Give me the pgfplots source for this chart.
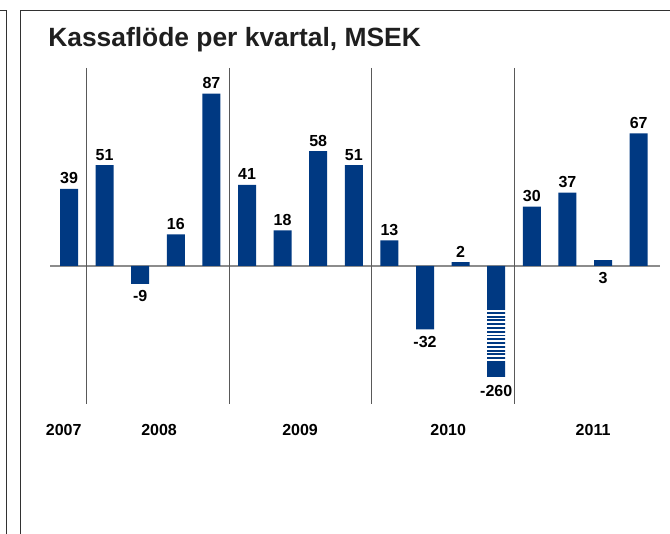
\documentclass[border=0pt]{standalone}
\usepackage{pgfplots}
\usepackage{pgfplotstable}
\pgfplotsset{compat=1.18}
\usepackage{fontspec}
\setmainfont{Liberation Sans}
\definecolor{barblue}{RGB}{0,57,130}
\definecolor{framegray}{RGB}{50,50,50}

% val = true value, disp = drawn height (the -260 bar is drawn broken), ly = label baseline
\pgfplotstableread{
x val disp ly
0 39 39 41.5
1 51 51 53.5
2 -9 -9 -18
3 16 16 18.5
4 87 87 89.5
5 41 41 43.5
6 18 18 20.5
7 58 58 60.5
8 51 51 53.5
9 13 13 15.5
10 -32 -32 -41
11 2 2 4.5
12 -260 -56 -66
13 30 30 32.5
14 37 37 39.5
15 3 3 -8.6
16 67 67 69.5
}\data

\begin{document}
\begin{tikzpicture}
\path[use as bounding box] (0,0) rectangle (502.5pt,399.75pt);
\begin{scope}[x=0.75pt,y=-0.75pt,yshift=399.75pt]
  \draw[line width=1.1pt, framegray] (0,10.5) -- (6.5,10.5) -- (6.5,545);
  \draw[line width=1.1pt, framegray] (690,10.5) -- (20.5,10.5) -- (20.5,545);
  \node[anchor=base west, inner sep=0pt, font=\fontsize{19.8}{22}\selectfont\bfseries, text=black!88] at (48,46.7) {Kassaflöde per kvartal, MSEK};
\end{scope}
\begin{axis}[
  at={(37.5pt,96.75pt)}, anchor=south west,
  scale only axis, width=457.5pt, height=252pt,
  xmin=-0.534, xmax=16.6, ymin=-69.7, ymax=100,
  hide axis, clip=false,
]
  \draw[black!45, line width=1.1pt] (axis cs:-0.534,0) -- (axis cs:16.6,0);
  \addplot[ybar, bar width=13.5pt, fill=barblue, draw=none] table[x=x, y=disp] {\data};
  \pgfplotsinvokeforeach{0,...,13}{
    \draw[white, line width=1.4pt] (axis cs:11.73,{-22.7-1.91*#1}) -- (axis cs:12.27,{-22.7-1.91*#1});
  }
  \addplot[only marks, mark=none, point meta=explicit symbolic, nodes near coords,
    nodes near coords align={anchor=base},
    every node near coord/.append style={font=\fontsize{12}{14}\selectfont\bfseries, text=black, inner sep=0pt}]
    table[x=x, y=ly, meta=val] {\data};
  \foreach \s in {0.5,4.5,8.5,12.5}{
    \edef\tmp{\noexpand\draw[black!65, line width=0.8pt] (axis cs:\s,100) -- (axis cs:\s,-69.7);}\tmp
  }
  \node[anchor=base, font=\fontsize{12}{14}\selectfont\bfseries] at (axis cs:-0.15,-85.4) {2007};
  \node[anchor=base, font=\fontsize{12}{14}\selectfont\bfseries] at (axis cs:2.53,-85.4) {2008};
  \node[anchor=base, font=\fontsize{12}{14}\selectfont\bfseries] at (axis cs:6.49,-85.4) {2009};
  \node[anchor=base, font=\fontsize{12}{14}\selectfont\bfseries] at (axis cs:10.65,-85.4) {2010};
  \node[anchor=base, font=\fontsize{12}{14}\selectfont\bfseries] at (axis cs:14.72,-85.4) {2011};
\end{axis}
\end{tikzpicture}
\end{document}
